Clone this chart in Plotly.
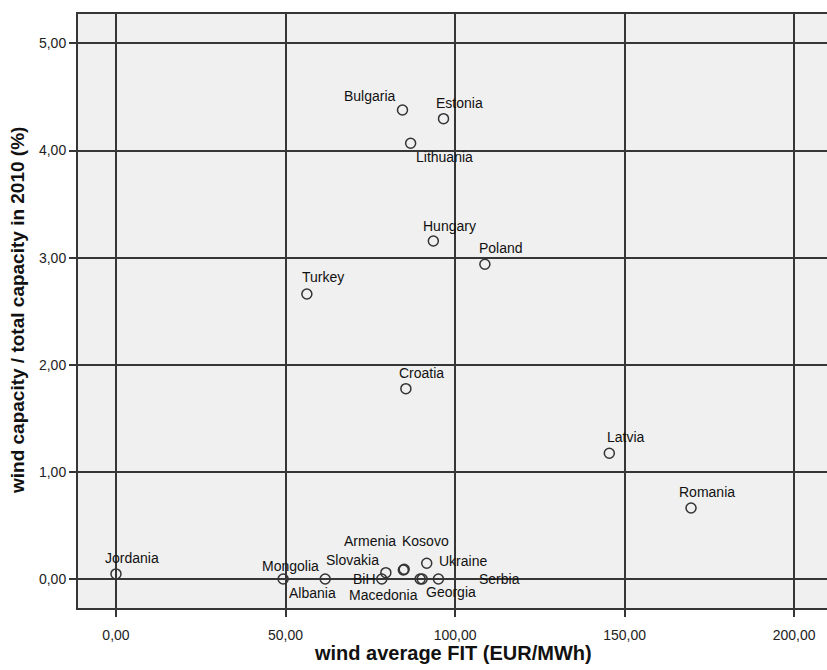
import plotly.graph_objects as go

countries = ["Jordania", "Mongolia", "Albania", "Slovakia", "BiH", "Armenia", "Kosovo",
             "Macedonia", "Serbia", "Georgia", "Ukraine", "Bulgaria", "Estonia", "Lithuania",
             "Hungary", "Poland", "Turkey", "Croatia", "Latvia", "Romania"]
fit_eur_mwh = [0.0, 49.3, 61.7, 79.6, 78.4, 84.75, 85.0,
               89.7, 90.3, 95.1, 91.65, 84.5, 96.6, 86.9,
               93.6, 108.8, 56.3, 85.5, 145.5, 169.6]
wind_share_pct = [0.047, 0.0, 0.0, 0.059, 0.0, 0.084, 0.09,
                  0.0, 0.0, 0.0, 0.147, 4.379, 4.298, 4.068,
                  3.156, 2.938, 2.661, 1.777, 1.174, 0.663]

# label placement offsets in pixels (dx right, dy up) - styling only
label_offsets = [(16, 16), (7, 13), (-13, -14), (-33, 13), (-17, 0), (-33, 29), (21, 28),
                 (-37, -16), (77, 0), (13, -13), (36, 2), (-32, 14), (16, 16), (34, -14),
                 (16, 15), (16, 16), (16, 17), (16, 16), (17, 16), (16, 16)]

x_ticks = [0, 50, 100, 150, 200]
y_ticks = [0, 1, 2, 3, 4, 5]

font_fam = "Liberation Sans, Arial, sans-serif"
title_fam = "Liberation Sans Narrow, Arial Narrow, Liberation Sans, Arial, sans-serif"
dark = "#363636"

fig = go.Figure()
fig.add_trace(go.Scatter(
    x=fit_eur_mwh, y=wind_share_pct, mode="markers",
    marker=dict(symbol="circle-open", size=10, color="#333333", line=dict(width=1.5, color="#333333")),
    hoverinfo="text", text=countries, showlegend=False,
))

annotations = []
for name, xv, yv, (dx, dy) in zip(countries, fit_eur_mwh, wind_share_pct, label_offsets):
    annotations.append(dict(x=xv, y=yv, xref="x", yref="y", text=name, showarrow=False,
                            xshift=dx, yshift=dy, xanchor="center", yanchor="middle",
                            font=dict(family=font_fam, size=14, color="#111111")))

annotations.append(dict(x=0.5, y=0, xref="paper", yref="paper", text="<b>wind average FIT (EUR/MWh)</b>",
                        showarrow=False, xanchor="center", yanchor="middle", yshift=-45,
                        font=dict(family=title_fam, size=20, color="#111111")))
annotations.append(dict(x=0, y=0.5, xref="paper", yref="paper",
                        text="<b>wind capacity / total capacity in 2010 (%)</b>",
                        showarrow=False, xanchor="center", yanchor="middle", xshift=-61, textangle=-90,
                        font=dict(family=title_fam, size=19, color="#111111")))

fig.update_layout(
    width=827, height=670,
    margin=dict(l=78, r=0, t=14, b=62, autoexpand=False),
    paper_bgcolor="white", plot_bgcolor="#f0f0f0",
    separators=",.",
    annotations=annotations,
    xaxis=dict(range=[-11.2, 209.7], tickvals=x_ticks, tickformat=".2f", automargin=False,
               showgrid=True, gridcolor=dark, gridwidth=1.5, zeroline=False,
               showline=True, linecolor=dark, linewidth=2, mirror=True,
               ticks="outside", ticklen=7, tickcolor=dark, tickwidth=1.5,
               ticklabelstandoff=6,
               tickfont=dict(family=font_fam, size=14, color="#222222")),
    yaxis=dict(range=[-0.271, 5.275], tickvals=y_ticks, tickformat=".2f", automargin=False,
               showgrid=True, gridcolor=dark, gridwidth=1.5, zeroline=False,
               showline=True, linecolor=dark, linewidth=2, mirror=False,
               ticks="outside", ticklen=7, tickcolor=dark, tickwidth=1.5,
               tickfont=dict(family=font_fam, size=14, color="#222222")),
)

fig.write_html("out.html", config={"displayModeBar": False},
               post_script="document.body.style.margin='0';document.body.style.overflow='hidden';")
